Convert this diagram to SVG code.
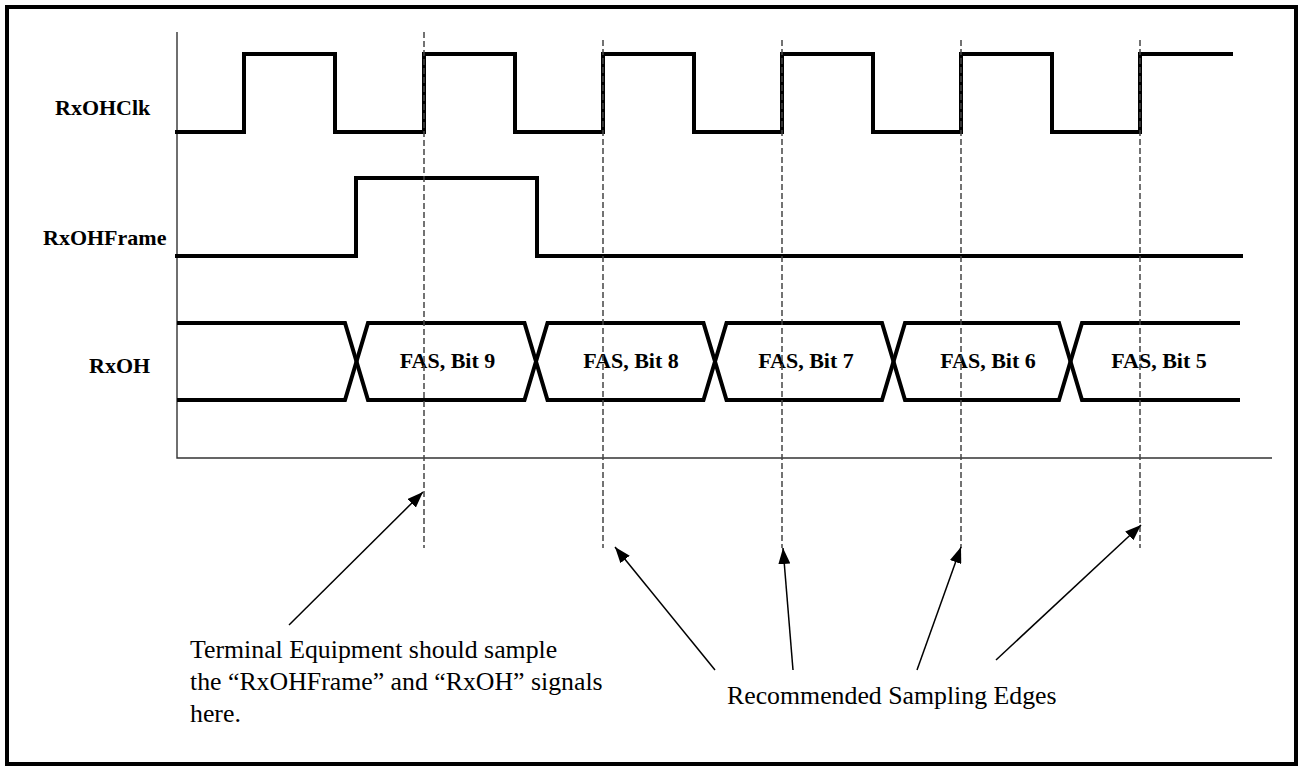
<svg xmlns="http://www.w3.org/2000/svg" width="1298" height="768" viewBox="0 0 1298 768">
<style>
.sig{fill:none;stroke:#000;stroke-width:4;stroke-linejoin:miter;stroke-linecap:square}
.bus{fill:none;stroke:#000;stroke-width:4;stroke-linejoin:miter}
.axis{fill:none;stroke:#333;stroke-width:1.4}
.dash{fill:none;stroke:#444;stroke-width:1.5;stroke-dasharray:6,3}
.arr{fill:none;stroke:#000;stroke-width:1.5}
.lbl{font-family:"Liberation Serif","Times New Roman",serif;font-weight:bold;font-size:22px;fill:#000}
.note{font-family:"Liberation Serif","Times New Roman",serif;font-size:25.8px;fill:#000}
</style>
<defs>
<marker id="ah" viewBox="0 0 16 12" refX="16" refY="6" markerWidth="16" markerHeight="12" markerUnits="userSpaceOnUse" orient="auto">
<path d="M0,0 L16,6 L0,12 Z" fill="#000"/>
</marker>
</defs>
<rect x="0" y="0" width="1298" height="768" fill="#fff"/>
<rect x="7" y="7" width="1289" height="757" fill="none" stroke="#000" stroke-width="4"/>
<g id="axes">
<path class="axis" d="M177,32 V458 H1272"/>
</g>
<g id="rxohclk">
<text class="lbl" x="55" y="115">RxOHClk</text>
<path class="sig" d="M177,132 H244 V54 H335 V132 H424 V54 H515 V132 H603 V54 H694 V132 H782 V54 H873 V132 H961 V54 H1052 V132 H1140 V54 H1231"/>
</g>
<g id="rxohframe">
<text class="lbl" x="43" y="245">RxOHFrame</text>
<path class="sig" d="M177,256 H356 V178 H537 V256 H1241"/>
</g>
<g id="rxoh">
<text class="lbl" x="89" y="373">RxOH</text>
<path class="bus" d="M177,323 H345 L356.5,361.5 L345,400 H177"/>
<path class="bus" d="M356.5,361.5 L368,323 H524.5 L536,361.5 L524.5,400 H368 Z"/>
<path class="bus" d="M536,361.5 L547.5,323 H703.5 L715,361.5 L703.5,400 H547.5 Z"/>
<path class="bus" d="M715,361.5 L726.5,323 H882 L893.5,361.5 L882,400 H726.5 Z"/>
<path class="bus" d="M893.5,361.5 L905,323 H1059 L1070.5,361.5 L1059,400 H905 Z"/>
<path class="bus" d="M1240,323 H1082 L1070.5,361.5 L1082,400 H1240"/>
<text class="lbl" x="447.5" y="368" text-anchor="middle">FAS, Bit 9</text>
<text class="lbl" x="631" y="368" text-anchor="middle">FAS, Bit 8</text>
<text class="lbl" x="806" y="368" text-anchor="middle">FAS, Bit 7</text>
<text class="lbl" x="988" y="368" text-anchor="middle">FAS, Bit 6</text>
<text class="lbl" x="1159" y="368" text-anchor="middle">FAS, Bit 5</text>
</g>
<g id="sample-lines">
<line class="dash" x1="424" y1="32" x2="424" y2="548"/>
<line class="dash" x1="603" y1="40" x2="603" y2="548"/>
<line class="dash" x1="782" y1="40" x2="782" y2="548"/>
<line class="dash" x1="961" y1="40" x2="961" y2="548"/>
<line class="dash" x1="1140" y1="40" x2="1140" y2="548"/>
</g>
<g id="note-terminal">
<text class="note" x="190" y="658">Terminal Equipment should sample</text>
<text class="note" x="190" y="690">the “RxOHFrame” and “RxOH” signals</text>
<text class="note" x="190" y="722">here.</text>
</g>
<g id="note-recommended">
<text class="note" x="727" y="704">Recommended Sampling Edges</text>
</g>
<g id="connectors">
<line class="arr" x1="289" y1="625" x2="423" y2="492" marker-end="url(#ah)"/>
<line class="arr" x1="715" y1="670" x2="615" y2="547" marker-end="url(#ah)"/>
<line class="arr" x1="793" y1="670" x2="783" y2="548" marker-end="url(#ah)"/>
<line class="arr" x1="917" y1="670" x2="961" y2="547" marker-end="url(#ah)"/>
<line class="arr" x1="996" y1="660" x2="1141" y2="525" marker-end="url(#ah)"/>
</g>
</svg>
